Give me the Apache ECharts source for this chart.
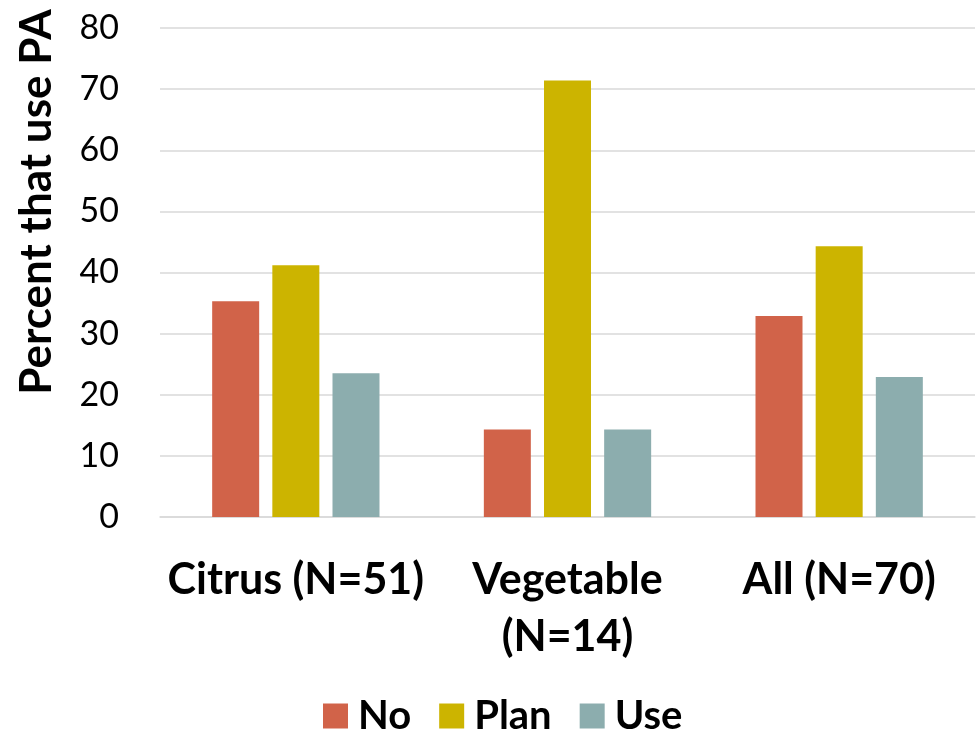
<!DOCTYPE html>
<html>
<head>
<meta charset="utf-8">
<script src="https://cdn.jsdelivr.net/npm/echarts@6/dist/echarts.min.js"></script>
<style>html,body{margin:0;padding:0;background:#fff}#c{width:976px;height:731px}</style>
</head>
<body>
<div id="c"></div>
<script>
var categories = ['Citrus (N=51)', 'Vegetable\n(N=14)', 'All (N=70)'];
var seriesNames = ['No', 'Plan', 'Use'];
var noValues = [35.3, 14.3, 32.9];
var planValues = [41.2, 71.4, 44.3];
var useValues = [23.5, 14.3, 22.9];
var yTicks = {min: 0, max: 80, interval: 10};
var yTitle = 'Percent that use PA';

var colors = ['#D16349', '#CCB400', '#8CADAE'];
var font = 'Lato, "Open Sans", sans-serif';
var chart = echarts.init(document.getElementById('c'));
var data = [noValues, planValues, useValues];
chart.setOption({
  animation: false,
  color: colors,
  grid: {left: 160, right: 1, top: 28, bottom: 214, containLabel: false},
  legend: {
    data: seriesNames, bottom: -10, left: 318,
    itemWidth: 25, itemHeight: 25, itemGap: 28,
    icon: 'rect',
    textStyle: {fontFamily: font, fontWeight: 'bold', fontSize: 40, color: '#000', padding: [0, 0, 0, 5]}
  },
  xAxis: {
    type: 'category', data: categories,
    axisLine: {show: true, lineStyle: {color: '#D9D9D9', width: 1.5}},
    axisTick: {show: false},
    axisLabel: {fontFamily: font, fontWeight: 'bold', fontSize: 43, color: '#000', lineHeight: 57, margin: 35, interval: 0}
  },
  yAxis: {
    type: 'value', min: yTicks.min, max: yTicks.max, interval: yTicks.interval,
    axisLine: {show: false}, axisTick: {show: false},
    splitLine: {lineStyle: {color: '#D9D9D9', width: 1.5}},
    axisLabel: {fontFamily: font, fontSize: 34, color: '#000', margin: 41}
  },
  graphic: [{
    type: 'text', x: 37, y: 202, rotation: Math.PI / 2,
    style: {text: yTitle, fontFamily: font, fontWeight: 'bold', fontSize: 44, fill: '#000', align: 'center', verticalAlign: 'middle'}
  }],
  series: seriesNames.map(function (n, i) {
    return {name: n, type: 'bar', data: data[i], barWidth: 47, barGap: '28%', itemStyle: {color: colors[i]}};
  })
});
</script>
</body>
</html>
